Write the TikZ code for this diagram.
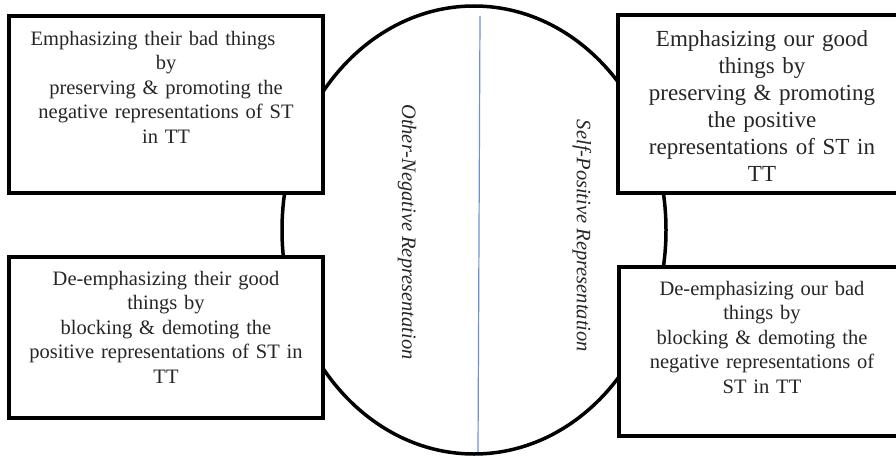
\documentclass[tikz,border=0pt]{standalone}
\usepackage{fontspec}
\setmainfont{Liberation Serif}
\usetikzlibrary{shapes.geometric}
\definecolor{bluel}{HTML}{6F8FD0}
\definecolor{txt}{HTML}{262626}
\tikzset{
  boxnode/.style={draw=black, line width=4pt, fill=white, rectangle, inner sep=0pt},
  boxtext/.style={anchor=north, align=center, text width=310pt, inner sep=0pt, text=txt,
    font=\fontsize{20.5}{24.5}\selectfont},
  bigtext/.style={boxtext, font=\fontsize{23}{27}\selectfont},
  sidetext/.style={rotate=-90, inner sep=0pt, text=txt, font=\fontsize{20.5}{24}\selectfont\itshape}
}
\begin{document}
\begin{tikzpicture}[x=1pt,y=-1pt]
\useasboundingbox (0,0) rectangle (896,457);
\fill[white] (0,0) rectangle (896,457);
% oval
\node[draw=black, ellipse, line width=3.5pt, minimum width=384pt, minimum height=448pt, inner sep=0pt] (oval) at (474,230) {};
\coordinate (bt) at (480,16);
\coordinate (bb) at (478,452);
\draw[bluel, line width=1.2pt] (bt) -- (bb);
% boxes
\node[boxnode, minimum width=314pt, minimum height=177pt] (tl) at (166,104.5) {};
\node[boxnode, minimum width=314pt, minimum height=161pt] (bl) at (166,337.5) {};
\node[boxnode, minimum width=292pt, minimum height=178pt] (tr) at (764,104) {};
\node[boxnode, minimum width=291pt, minimum height=169pt] (br) at (764.5,351.5) {};
% texts
\node[boxtext] (tlt) at (166,31) {Emphasizing their bad things\rule{26pt}{0pt}\\ by\\ preserving \& promoting the\\ negative representations of ST\\ in TT};
\node[boxtext] (blt) at (166,271) {De-emphasizing their good\\ things by\\ blocking \& demoting the\\ positive representations of ST in\\ TT};
\node[bigtext, text width=290pt] (trt) at (762,30) {Emphasizing our good\\ things by\\ preserving \& promoting\\ the positive\\ representations of ST in\\ TT};
\node[boxtext, text width=290pt] (brt) at (762,281) {De-emphasizing our bad\\ things by\\ blocking \& demoting the\\ negative representations of\\ ST in TT};
% side labels
\node[sidetext] (on) at (407,232) {Other-Negative Representation};
\node[sidetext] (sp) at (582,236) {Self-Positive Representation};
\end{tikzpicture}
\end{document}
